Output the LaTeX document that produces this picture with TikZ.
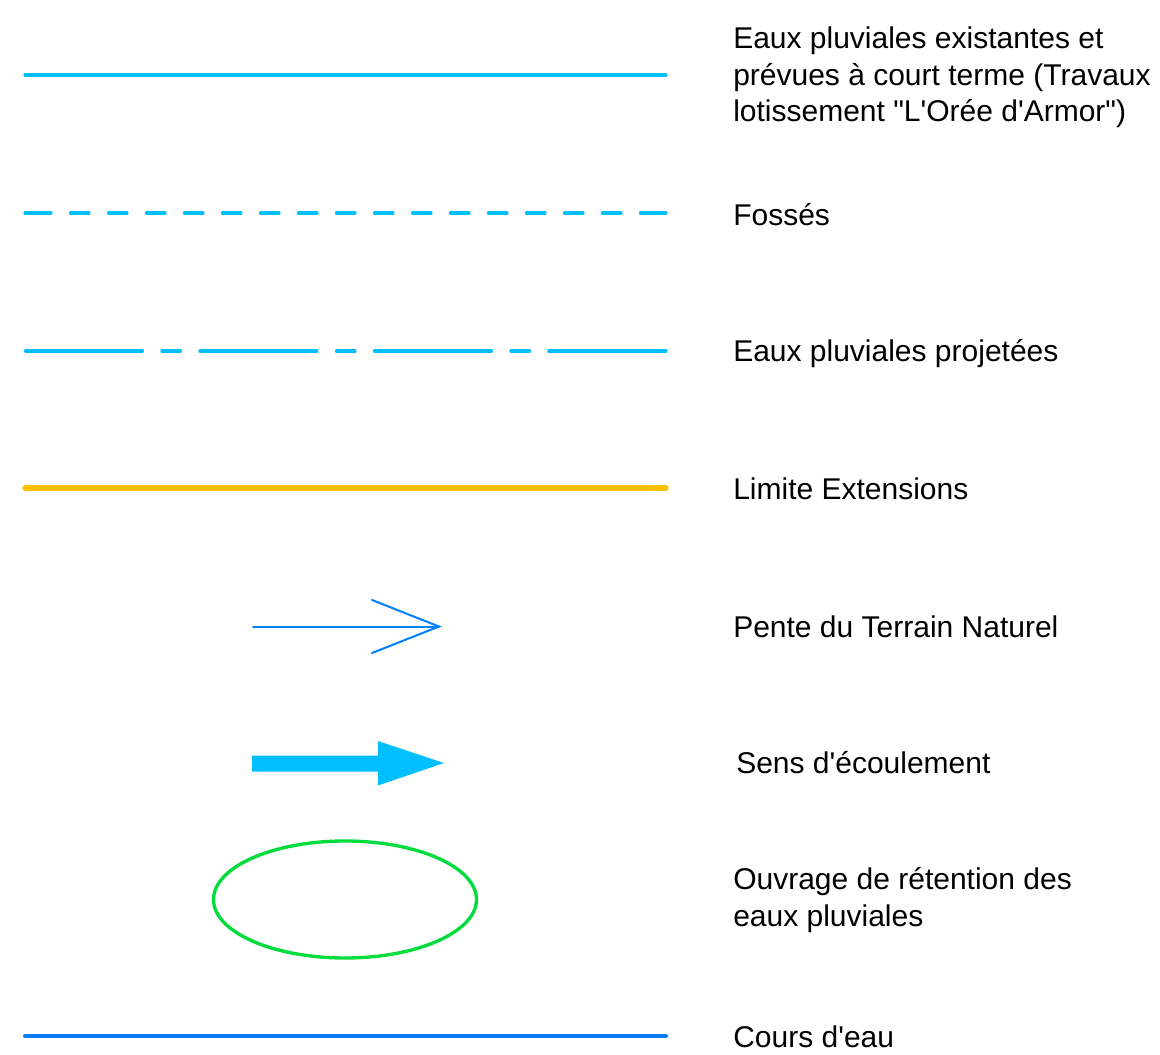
\documentclass[tikz,border=0pt]{standalone}
\usepackage{fontspec}
\setmainfont{Liberation Sans}[Ligatures=TeXOff]
\definecolor{pluvcyan}{RGB}{0,191,255}
\definecolor{limorange}{RGB}{255,192,0}
\definecolor{pentblue}{RGB}{0,128,255}
\definecolor{coursblue}{RGB}{10,125,240}
\definecolor{retgreen}{RGB}{0,220,60}
\begin{document}
\begin{tikzpicture}[x=0.75pt,y=-0.75pt,
  legtext/.style={anchor=base west,inner sep=0pt,align=left,
    font=\fontsize{22.5}{27.6}\selectfont},
  legline/.style={line width=2.4pt,line cap=round},
  pluvline/.style={legline,draw=pluvcyan},
  fosseline/.style={pluvline,dash pattern=on 19.5pt off 14.6pt on 13.9pt off 14.6pt on 13.9pt off 14.6pt on 13.9pt off 14.6pt on 13.9pt off 14.6pt on 13.9pt off 14.6pt on 13.9pt off 14.6pt on 13.9pt off 14.6pt on 13.9pt off 14.6pt on 13.9pt off 14.6pt on 13.9pt off 14.6pt on 13.9pt off 14.6pt on 13.9pt off 14.6pt on 13.9pt off 14.6pt on 13.9pt off 14.6pt on 13.9pt off 14.6pt on 30pt off 75pt},
  projline/.style={pluvline,dash pattern=on 87.75pt off 14.6pt on 13.9pt off 14.6pt},
  limline/.style={legline,line width=4pt,draw=limorange},
  coursline/.style={legline,line width=3pt,draw=coursblue},
  penteline/.style={line width=1.5pt,draw=pentblue,line cap=round,line join=miter},
  sensarrow/.style={fill=pluvcyan,draw=none},
  retention/.style={draw=retgreen,line width=2.5pt}]
\useasboundingbox (0,0) rectangle (1160,1055);
\fill[white] (0,0) rectangle (1160,1055);

% symbols
\coordinate (l1a) at (25,75);   \coordinate (l1b) at (666,75);
\coordinate (l2a) at (25,213);  \coordinate (l2b) at (666,213);
\coordinate (l3a) at (25.5,351);\coordinate (l3b) at (666,351);
\coordinate (l4a) at (25,488);  \coordinate (l4b) at (666,488);
\coordinate (l8a) at (25,1036); \coordinate (l8b) at (666,1036);
\draw[pluvline] (l1a) -- (l1b);
\draw[fosseline] (l2a) -- (l2b);
\draw[projline] (l3a) -- (l3b);
\draw[limline] (l4a) -- (l4b);
\draw[coursline] (l8a) -- (l8b);

% pente du terrain naturel
\coordinate (p5a) at (253,626.5);
\coordinate (p5tip) at (439,626.5);
\draw[penteline] (p5a) -- (p5tip);
\draw[penteline] (372,600) -- (p5tip) -- (372,653);

% sens d'ecoulement
\fill[sensarrow] (252,755.5) -- (378,755.5) -- (378,741) -- (444,763)
  -- (378,785.5) -- (378,771.5) -- (252,771.5) -- cycle;

% ouvrage de retention
\draw[retention] (345,899.5) ellipse [x radius=131.5, y radius=58.5];

% texts (base of a multi-line node = baseline of its last line)
\node[legtext] (t1) at (733,122) {Eaux pluviales existantes et\\prévues à court terme (Travaux\\lotissement "L'Orée d'Armor")};
\node[legtext] (t2) at (733,226) {Fossés};
\node[legtext] (t3) at (733,362) {Eaux pluviales projetées};
\node[legtext] (t4) at (733,499) {Limite Extensions};
\node[legtext] (t5) at (733,637) {Pente du Terrain Naturel};
\node[legtext] (t6) at (736,773) {Sens d'écoulement};
\node[legtext] (t7) at (733,926.5) {Ouvrage de rétention des\\eaux pluviales};
\node[legtext] (t8) at (733,1047) {Cours d'eau};
\end{tikzpicture}
\end{document}
